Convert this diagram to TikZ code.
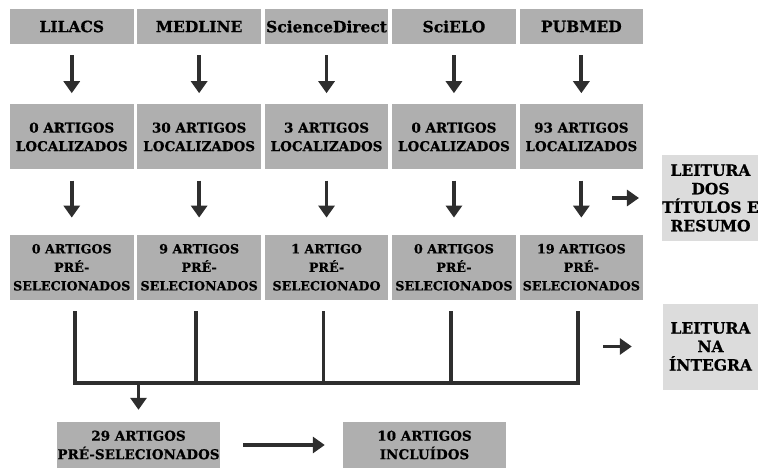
\documentclass[tikz,border=0pt]{standalone}
\usepackage{fontspec}
\setmainfont{DejaVu Serif}[BoldFeatures={FakeBold=0.6}]
\usetikzlibrary{positioning,arrows.meta}
\definecolor{boxgray}{HTML}{AFAFAF}
\definecolor{lightgray}{HTML}{DCDCDC}
\definecolor{arrowgray}{HTML}{2E2E2E}
\begin{document}
\begin{tikzpicture}[x=1pt,y=-1pt,
  box/.style={rectangle,fill=boxgray,inner sep=0pt,align=center,font=\bfseries\fontsize{13.5}{18.5}\selectfont},
  dbbox/.style={box,minimum width=123.5pt,minimum height=35pt,font=\bfseries\fontsize{15.5}{18}\selectfont},
  countbox/.style={box,minimum width=123.5pt,minimum height=65pt},
  selbox/.style={countbox,font=\bfseries\fontsize{12.7}{18.5}\selectfont},
  sidebox/.style={box,fill=lightgray,minimum width=95pt,minimum height=86pt,font=\bfseries\fontsize{15.5}{18.5}\selectfont},
  arr/.style={arrowgray,line width=3.8pt,-{Triangle[width=16pt,length=12pt]}},
  bar/.style={arrowgray,line width=3.8pt}]
  \useasboundingbox (0,0) rectangle (758,468);
  % Databases
  \node (lilacs) [dbbox] at (71.75,26.5) {LILACS};
  \node (medline) [dbbox,right=3.5pt of lilacs] {MEDLINE};
  \node (sciencedirect) [dbbox,right=3.5pt of medline] {ScienceDirect};
  \node (scielo) [dbbox,right=3.5pt of sciencedirect] {SciELO};
  \node (pubmed) [dbbox,right=3.5pt of scielo] {PUBMED};

  % Located articles
  \node (loc1) [countbox,below=60pt of lilacs] {0 ARTIGOS\\LOCALIZADOS};
  \node (loc2) [countbox,below=60pt of medline] {30 ARTIGOS\\LOCALIZADOS};
  \node (loc3) [countbox,below=60pt of sciencedirect] {3 ARTIGOS\\LOCALIZADOS};
  \node (loc4) [countbox,below=60pt of scielo] {0 ARTIGOS\\LOCALIZADOS};
  \node (loc5) [countbox,below=60pt of pubmed] {93 ARTIGOS\\LOCALIZADOS};

  % Pre-selected articles
  \node (sel1) [selbox,below=65pt of loc1] {0 ARTIGOS\\PRÉ-\\SELECIONADOS};
  \node (sel2) [selbox,below=65pt of loc2] {9 ARTIGOS\\PRÉ-\\SELECIONADOS};
  \node (sel3) [selbox,below=65pt of loc3] {1 ARTIGO\\PRÉ-\\SELECIONADO};
  \node (sel4) [selbox,below=65pt of loc4] {0 ARTIGOS\\PRÉ-\\SELECIONADOS};
  \node (sel5) [selbox,below=65pt of loc5] {19 ARTIGOS\\PRÉ-\\SELECIONADOS};

  % Reading steps
  \node (titles) [sidebox] at (710.5,198) {LEITURA\\DOS\\TÍTULOS E\\RESUMO};
  \node (fulltext) [sidebox] at (710.5,346.5) {LEITURA\\NA\\ÍNTEGRA};

  % Totals
  \node (preselected) [box,minimum width=163pt,minimum height=46pt] at (138.5,445) {29 ARTIGOS\\PRÉ-SELECIONADOS};
  \node (included) [box,minimum width=163pt,minimum height=46pt] at (424.5,445) {10 ARTIGOS\\INCLUÍDOS};

  % Arrows
  \foreach \a/\b in {lilacs/loc1,medline/loc2,sciencedirect/loc3,scielo/loc4,pubmed/loc5}
    \draw [arr,shorten <=11pt,shorten >=11pt] (\a) -- (\b);
  \foreach \a/\b in {loc1/sel1,loc2/sel2,loc3/sel3,loc4/sel4,loc5/sel5}
    \draw [arr,shorten <=11pt,shorten >=17pt] (\a) -- (\b);

  \coordinate (bus) at (0,383);
  \draw [bar] ([xshift=3pt,yshift=-11pt]sel1.south) -- ([xshift=3pt]sel1.south |- bus) -- ([xshift=-3pt]sel5.south |- bus) -- ([xshift=-3pt,yshift=-11pt]sel5.south);
  \foreach \s in {sel2,sel3,sel4}
    \draw [bar] ([xshift=-3pt,yshift=-11pt]\s.south) -- ([xshift=-3pt]\s.south |- bus);
  \draw [arr,shorten >=12pt] (preselected.north |- bus) -- (preselected.north);
  \draw [arr,shorten <=23pt,shorten >=18pt] (preselected) -- (included);

  \coordinate (step1) at (612,198);
  \coordinate (step2) at (603,346.5);
  \draw [arr,shorten >=23pt] (step1) -- (titles);
  \draw [arr,shorten >=31pt] (step2) -- (fulltext);
\end{tikzpicture}
\end{document}
